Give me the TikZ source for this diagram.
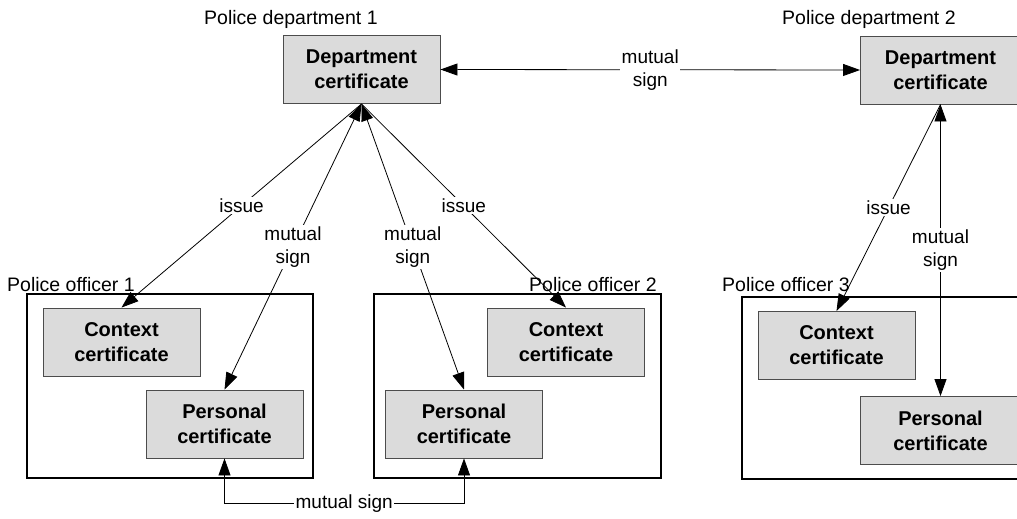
\documentclass[tikz,border=0pt]{standalone}
\usepackage{fontspec}
\setmainfont{Liberation Sans}
\usetikzlibrary{arrows.meta}
\begin{document}
\begin{tikzpicture}[x=1pt,y=-1pt,
  cert/.style={draw=black!70, line width=0.9pt, fill=black!14, minimum width=157pt,
    minimum height=68pt, inner sep=0pt, align=center,
    font=\fontsize{20}{25}\selectfont\bfseries},
  officer/.style={draw=black, line width=1.4pt, inner sep=0pt},
  caption/.style={anchor=base west, inner sep=0pt, font=\fontsize{19.5}{23}\selectfont},
  tip/.tip={Triangle[length=17pt,width=12pt]},
  conn/.style={line width=0.8pt, -tip},
  both/.style={line width=0.8pt, tip-tip},
  lbl/.style={fill=white, inner sep=1.5pt, align=center, font=\fontsize{19}{23}\selectfont}
]
\useasboundingbox (0,0) rectangle (1017,519);

% officer frames
\node[officer, minimum width=286pt, minimum height=184pt] (off1) at (170,386) {};
\node[officer, minimum width=287pt, minimum height=184pt] (off2) at (517.5,386) {};
\node[officer, minimum width=290pt, minimum height=182pt] (off3) at (887,388) {};

% captions
\node[caption] (capd1) at (204,25) {Police department 1};
\node[caption] (capd2) at (782,25) {Police department 2};
\node[caption] (capo1) at (7,291) {Police officer 1};
\node[caption] (capo2) at (529,291) {Police officer 2};
\node[caption] (capo3) at (722,291) {Police officer 3};

% certificates
\node[cert] (dep1) at (361.5,69.5) {Department\\certificate};
\node[cert, minimum width=160pt] (dep2) at (940.5,70) {Department\\certificate};
\node[cert] (ctx1) at (121.5,342) {Context\\certificate};
\node[cert] (per1) at (224.5,424) {Personal\\certificate};
\node[cert] (ctx2) at (566,342) {Context\\certificate};
\node[cert] (per2) at (464,424) {Personal\\certificate};
\node[cert] (ctx3) at (836.5,345.5) {Context\\certificate};
\node[cert, minimum width=160pt] (per3) at (940.5,430.5) {Personal\\certificate};

% department 1 links
\draw[conn] (dep1.south) -- node[lbl] {issue} (ctx1.north);
\draw[both] (dep1.south) -- node[lbl] {mutual\\sign} (per1.north);
\draw[both] (dep1.south) -- node[lbl] {mutual\\sign} (per2.north);
\draw[conn] (dep1.south) -- node[lbl] {issue} (ctx2.north);

% department 2 links
\draw[conn] (dep2.south) -- node[lbl] {issue} (ctx3.north);
\draw[both] (dep2.south) -- node[lbl] {mutual\\sign} (per3.north);

% between departments
\draw[both] (dep1.east) -- node[lbl] {mutual\\sign} (dep2.west);

% between officers
\draw[both] (per1.south) -- ++(0,45) coordinate (b1)
  -- node[lbl] {mutual sign} (b1 -| per2.south) -- (per2.south);
\end{tikzpicture}
\end{document}
